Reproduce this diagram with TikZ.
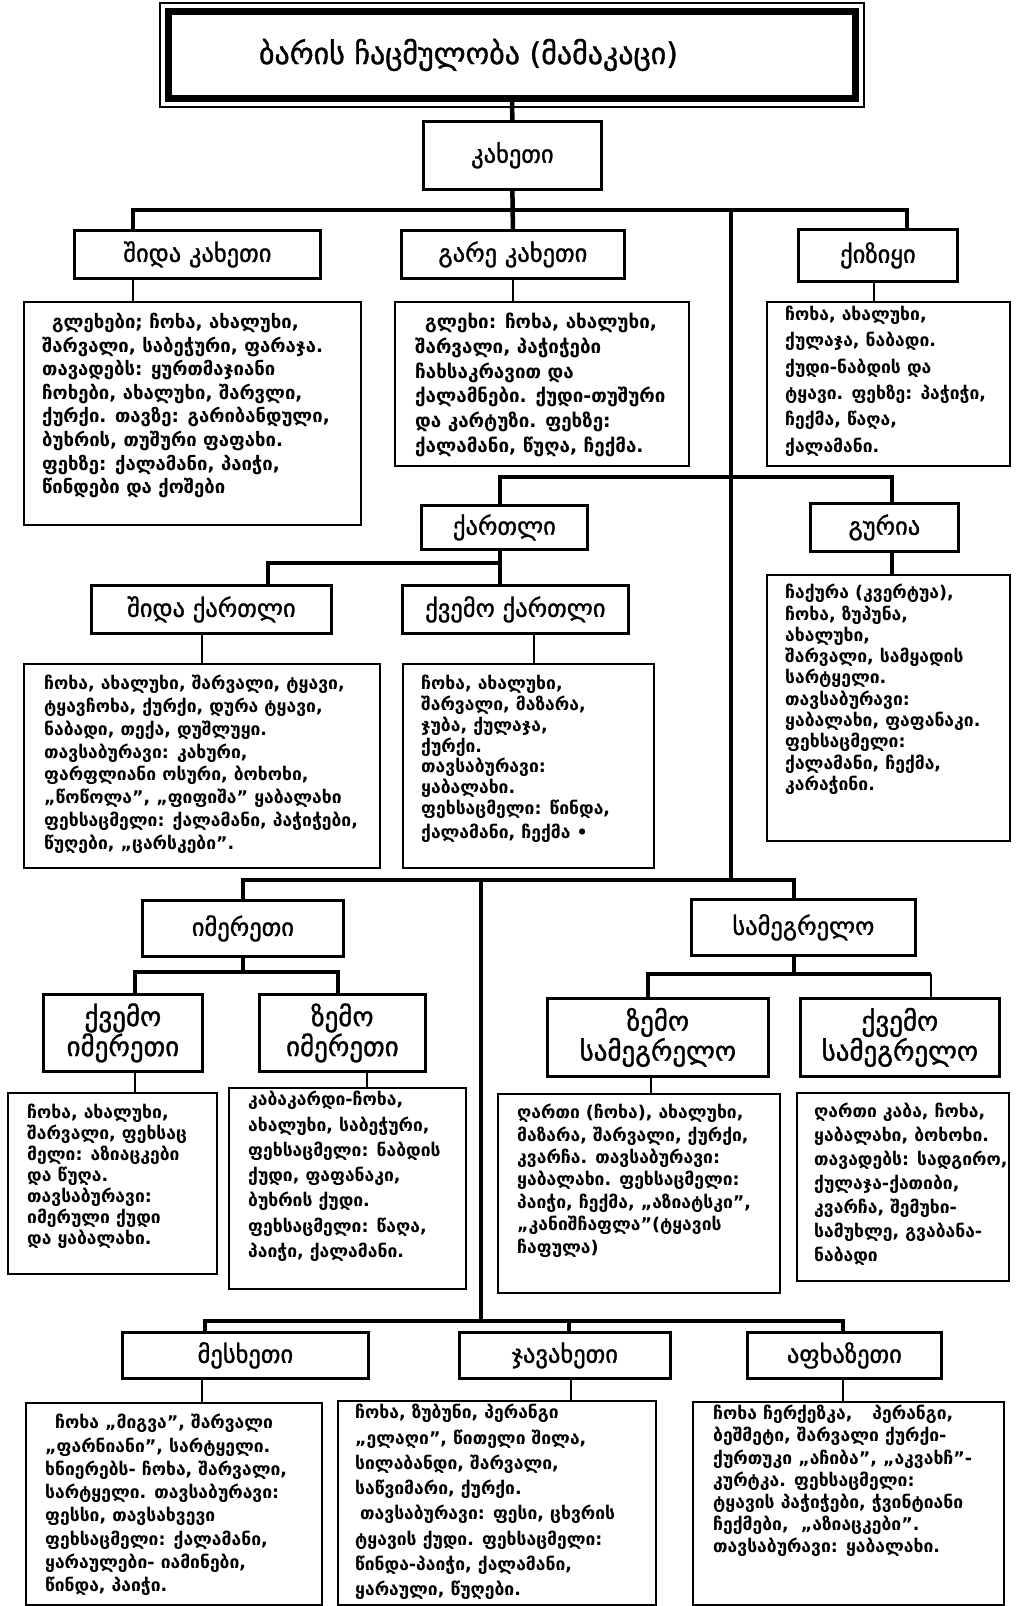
\documentclass[tikz,border=0pt]{standalone}
\usepackage{fontspec}
\setmainfont{DejaVu Sans}
\newfontfamily\hdfont[FakeBold=1.2]{DejaVu Sans}
\usetikzlibrary{calc}

\tikzset{
  hbox/.style={draw, line width=2.8, inner sep=0, anchor=north west, align=center, font=\hdfont\fontsize{24.5}{27}\selectfont},
  hbox2/.style={hbox, font=\hdfont\fontsize{27}{27}\selectfont},
  tbox/.style={draw, line width=1.8, inner sep=0, anchor=north west},
  ttext/.style={anchor=north west, inner sep=0, align=left, font=\bfseries\fontsize{17.5}{#1}\selectfont},
  conn/.style={line width=4.5, line join=miter},
  tlink/.style={line width=1.5},
}

\begin{document}
\begin{tikzpicture}[x=1pt, y=-1pt]
  \useasboundingbox (0,0) rectangle (1016,1606);

  %%%%% HEAD %%%%%
  \node[draw, line width=6, inner sep=0, minimum width=688, minimum height=88,
        font=\hdfont\fontsize{30}{34}\selectfont] (title) at (512,55)
        {\makebox[688pt][l]{\hspace*{91pt}ბარის ჩაცმულობა (მამაკაცი)}};
  \draw[line width=1.5] ($(title.north west)+(-5,-5)$) rectangle ($(title.south east)+(5,5)$);
  \draw[line width=1.2] ($(title.north west)+(6,6)$) rectangle ($(title.south east)+(-6,-6)$);

  \node[hbox, minimum width=178, minimum height=68] (kakheti) at (422,120) {კახეთი};

  %%%%% KAKHETI %%%%%
  \node[hbox, minimum width=246, minimum height=48] (shkH) at (73,229) {შიდა კახეთი};
  \node[hbox, minimum width=223, minimum height=48] (garH) at (400,229) {გარე კახეთი};
  \node[hbox, minimum width=159, minimum height=52] (kizH) at (797,228) {ქიზიყი};

  \node[tbox, minimum width=337, minimum height=223] (shkT) at (23,301) {};
  \node[ttext=23.6, font=\bfseries\fontsize{18.5}{23.6}\selectfont] (shkTx) at ($(shkT.north west)+(19,12)$) {%
    \hspace*{10pt}გლეხები; ჩოხა, ახალუხი,\\
    შარვალი, საბეჭური, ფარაჯა.\\
    თავადებს: ყურთმაჯიანი\\
    ჩოხები, ახალუხი, შარვლი,\\
    ქურქი. თავზე: გარიბანდული,\\
    ბუხრის, თუშური ფაფახი.\\
    ფეხზე: ქალამანი, პაიჭი,\\
    წინდები და ქოშები};
  \node[tbox, minimum width=294, minimum height=164] (garT) at (394,301) {};
  \node[ttext=24.7, font=\bfseries\fontsize{18.8}{24.7}\selectfont] (garTx) at ($(garT.north west)+(21,12)$) {%
    \hspace*{10pt}გლეხი: ჩოხა, ახალუხი,\\
    შარვალი, პაჭიჭები\\
    ჩახსაკრავით და\\
    ქალამნები. ქუდი-თუშური\\
    და კარტუზი. ფეხზე:\\
    ქალამანი, წუღა, ჩექმა.};
  \node[tbox, minimum width=243, minimum height=164] (kizT) at (766,301) {};
  \node[ttext=26.3] (kizTx) at ($(kizT.north west)+(19,5)$) {%
    ჩოხა, ახალუხი,\\
    ქულაჯა, ნაბადი.\\
    ქუდი-ნაბდის და\\
    ტყავი. ფეხზე: პაჭიჭი,\\
    ჩექმა, წაღა,\\
    ქალამანი.};

  \coordinate (kbarL) at (133,210);
  \coordinate (kbarR) at (907,210);
  \coordinate (spineT) at (731,210);
  \coordinate (spineB) at (731,880);
  \draw[conn] (title.south) -- (kakheti.north);
  \draw[conn] (kakheti.south) -- (garH.north);
  \draw[conn] (shkH.north -| kbarL) -- (kbarL) -- (kbarR) -- (kizH.north -| kbarR);
  \draw[conn] (spineT) -- (spineB);

  \coordinate (shkL) at (133,301);
  \coordinate (kizL) at (874,301);
  \draw[tlink] (shkH.south -| shkL) -- (shkL);
  \draw[tlink] (garH.south) -- (garT.north -| garH.south);
  \draw[tlink] (kizH.south -| kizL) -- (kizL);

  %%%%% KARTLI, GURIA %%%%%
  \node[hbox, minimum width=166, minimum height=44] (krH) at (420,504) {ქართლი};
  \node[hbox, minimum width=148, minimum height=48] (guH) at (809,502) {გურია};
  \node[hbox, minimum width=240, minimum height=48] (skH) at (90,584) {შიდა ქართლი};
  \node[hbox, minimum width=226, minimum height=48] (kkH) at (401,584) {ქვემო ქართლი};

  \node[tbox, minimum width=356, minimum height=204] (skT) at (23,663) {};
  \node[ttext=22.8] (skTx) at ($(skT.north west)+(21,12)$) {%
    ჩოხა, ახალუხი, შარვალი, ტყავი,\\
    ტყავჩოხა, ქურქი, დურა ტყავი,\\
    ნაბადი, თექა, დუშლუყი.\\
    თავსაბურავი: კახური,\\
    ფარფლიანი ოსური, ბოხოხი,\\
    „წოწოლა”, „ფიფიშა” ყაბალახი\\
    ფეხსაცმელი: ქალამანი, პაჭიჭები,\\
    წუღები, „ცარსკები”.};
  \node[tbox, minimum width=251, minimum height=204] (kkT) at (402,663) {};
  \node[ttext=20.8] (kkTx) at ($(kkT.north west)+(19,12)$) {%
    ჩოხა, ახალუხი,\\
    შარვალი, მაზარა,\\
    ჯუბა, ქულაჯა,\\
    ქურქი.\\
    თავსაბურავი:\\
    ყაბალახი.\\
    ფეხსაცმელი: წინდა,\\[3pt]
    ქალამანი, ჩექმა •};
  \node[tbox, minimum width=243, minimum height=266] (guT) at (766,574) {};
  \node[ttext=21.3] (guTx) at ($(guT.north west)+(19,10)$) {%
    ჩაქურა (კვერტუა),\\
    ჩოხა, ზუპუნა,\\
    ახალუხი,\\
    შარვალი, სამყადის\\
    სარტყელი.\\
    თავსაბურავი:\\
    ყაბალახი, ფაფანაკი.\\
    ფეხსაცმელი:\\
    ქალამანი, ჩექმა,\\
    კარაჭინი.};

  \coordinate (krbarL) at (500,477);
  \coordinate (krbarR) at (892,477);
  \coordinate (ksubL) at (268,563);
  \coordinate (ksubR) at (500,563);
  \draw[conn] (krH.north -| krbarL) -- (krbarL) -- (krbarR) -- (guH.north -| krbarR);
  \draw[conn] (guH.south -| krbarR) -- (guT.north -| krbarR);
  \draw[conn] (skH.north -| ksubL) -- (ksubL) -- (ksubR);
  \draw[conn] (krH.south -| ksubR) -- (kkH.north -| ksubR);

  \coordinate (skL) at (202,663);
  \coordinate (kkL) at (534,663);
  \draw[tlink] (skH.south -| skL) -- (skL);
  \draw[tlink] (kkH.south -| kkL) -- (kkL);

  %%%%% IMERETI, SAMEGRELO %%%%%
  \node[hbox, minimum width=201, minimum height=56] (imH) at (141,899) {იმერეთი};
  \node[hbox, minimum width=224, minimum height=56] (smH) at (690,898) {სამეგრელო};
  \node[hbox2, minimum width=159, minimum height=77] (kiH) at (42,993) {ქვემო\\იმერეთი};
  \node[hbox2, minimum width=166, minimum height=77] (ziH) at (258,993) {ზემო\\იმერეთი};
  \node[hbox2, minimum width=221, minimum height=78] (zsH) at (546,997) {ზემო\\სამეგრელო};
  \node[hbox2, minimum width=199, minimum height=78] (ksH) at (799,997) {ქვემო\\სამეგრელო};

  \node[tbox, minimum width=209, minimum height=181] (kiT) at (7,1092) {};
  \node[ttext=21] (kiTx) at ($(kiT.north west)+(20,12)$) {%
    ჩოხა, ახალუხი,\\
    შარვალი, ფეხსაც\\
    მელი: აზიაცკები\\
    და წუღა.\\
    თავსაბურავი:\\
    იმერული ქუდი\\
    და ყაბალახი.};
  \node[tbox, minimum width=237, minimum height=201] (ziT) at (228,1087) {};
  \node[ttext=25.3] (ziTx) at ($(ziT.north west)+(20,4)$) {%
    კაბაკარდი-ჩოხა,\\
    ახალუხი, საბეჭური,\\
    ფეხსაცმელი: ნაბდის\\
    ქუდი, ფაფანაკი,\\
    ბუხრის ქუდი.\\
    ფეხსაცმელი: წაღა,\\
    პაიჭი, ქალამანი.};
  \node[tbox, minimum width=282, minimum height=199] (zsT) at (497,1093) {};
  \node[ttext=22.4] (zsTx) at ($(zsT.north west)+(20,11)$) {%
    ღართი (ჩოხა), ახალუხი,\\
    მაზარა, შარვალი, ქურქი,\\
    კვარჩა. თავსაბურავი:\\
    ყაბალახი. ფეხსაცმელი:\\
    პაიჭი, ჩექმა, „აზიატსკი”,\\
    „კანიშჩაფლა”(ტყავის\\
    ჩაფულა)};
  \node[tbox, minimum width=212, minimum height=188] (ksT) at (796,1092) {};
  \node[ttext=24] (ksTx) at ($(ksT.north west)+(18,11)$) {%
    ღართი კაბა, ჩოხა,\\
    ყაბალახი, ბოხოხი.\\
    თავადებს: სადგირო,\\
    ქულაჯა-ქათიბი,\\
    კვარჩა, შემუხი-\\
    სამუხლე, გვაბანა-\\
    ნაბადი};

  \coordinate (isbarL) at (243,880);
  \coordinate (isbarR) at (794,880);
  \coordinate (lowT) at (481,880);
  \coordinate (lowB) at (481,1321);
  \coordinate (imsubL) at (135,972);
  \coordinate (imsubR) at (338,972);
  \coordinate (smsubL) at (648,974);
  \coordinate (smsubR) at (931,974);
  \draw[conn] (imH.north -| isbarL) -- (isbarL) -- (isbarR) -- (smH.north -| isbarR);
  \draw[conn] (lowT) -- (lowB);
  \draw[conn] (imH.south -| isbarL) -- (isbarL |- imsubL);
  \draw[conn] (kiH.north -| imsubL) -- (imsubL) -- (imsubR) -- (ziH.north -| imsubR);
  \draw[conn] (smH.south -| isbarR) -- (isbarR |- smsubL);
  \draw[conn] (zsH.north -| smsubL) -- (smsubL) -- (smsubR);
  \draw[line width=2.5] (smsubR) -- (ksH.north -| smsubR);

  \coordinate (kiL) at (135,1092);
  \coordinate (ziL) at (367,1087);
  \coordinate (zsL) at (651,1093);
  \draw[tlink] (kiH.south -| kiL) -- (kiL);
  \draw[tlink] (ziH.south -| ziL) -- (ziL);
  \draw[tlink] (zsH.south -| zsL) -- (zsL);

  %%%%% MESKHETI, JAVAKHETI, APKHAZETI %%%%%
  \node[hbox, minimum width=246, minimum height=46] (meH) at (121,1331) {მესხეთი};
  \node[hbox, minimum width=211, minimum height=46] (jaH) at (458,1331) {ჯავახეთი};
  \node[hbox, minimum width=194, minimum height=46] (afH) at (746,1331) {აფხაზეთი};

  \node[tbox, minimum width=296, minimum height=202] (meT) at (25,1402) {};
  \node[ttext=23.3] (meTx) at ($(meT.north west)+(20,12)$) {%
    \hspace*{10pt}ჩოხა „მიგვა”, შარვალი\\
    „ფარნიანი”, სარტყელი.\\
    ხნიერებს- ჩოხა, შარვალი,\\
    სარტყელი. თავსაბურავი:\\
    ფესსი, თავსახვევი\\
    ფეხსაცმელი: ქალამანი,\\
    ყარაულები- იამინები,\\
    წინდა, პაიჭი.};
  \node[tbox, minimum width=318, minimum height=204] (jaT) at (337,1400) {};
  \node[ttext=25.3] (jaTx) at ($(jaT.north west)+(18,4)$) {%
    ჩოხა, ზუბუნი, პერანგი\\
    „ელაღი”, წითელი შილა,\\
    სილაბანდი, შარვალი,\\
    საწვიმარი, ქურქი.\\
    \hspace*{5pt}თავსაბურავი: ფესი, ცხვრის\\
    ტყავის ქუდი. ფეხსაცმელი:\\
    წინდა-პაიჭი, ქალამანი,\\
    ყარაული, წუღები.};
  \node[tbox, minimum width=311, minimum height=203] (afT) at (692,1401) {};
  \node[ttext=22.2] (afTx) at ($(afT.north west)+(21,4)$) {%
    ჩოხა ჩერქეზკა,\hspace{14pt} პერანგი,\\
    ბეშმეტი, შარვალი ქურქი-\\
    ქურთუკი „აჩიბა”, „აკვახჩ”-\\
    კურტკა. ფეხსაცმელი:\\
    ტყავის პაჭიჭები, ჭვინტიანი\\
    ჩექმები, \ „აზიაცკები”.\\
    თავსაბურავი: ყაბალახი.};

  \coordinate (btL) at (205,1321);
  \coordinate (btM) at (569,1321);
  \coordinate (btR) at (843,1321);
  \draw[conn] (meH.north -| btL) -- (btL) -- (btR) -- (afH.north -| btR);
  \draw[conn] (btM) -- (jaH.north -| btM);

  \coordinate (meL) at (202,1402);
  \coordinate (jaL) at (571,1400);
  \coordinate (afL) at (843,1401);
  \draw[tlink] (meH.south -| meL) -- (meL);
  \draw[tlink] (jaH.south -| jaL) -- (jaL);
  \draw[tlink] (afH.south -| afL) -- (afL);
\end{tikzpicture}
\end{document}
